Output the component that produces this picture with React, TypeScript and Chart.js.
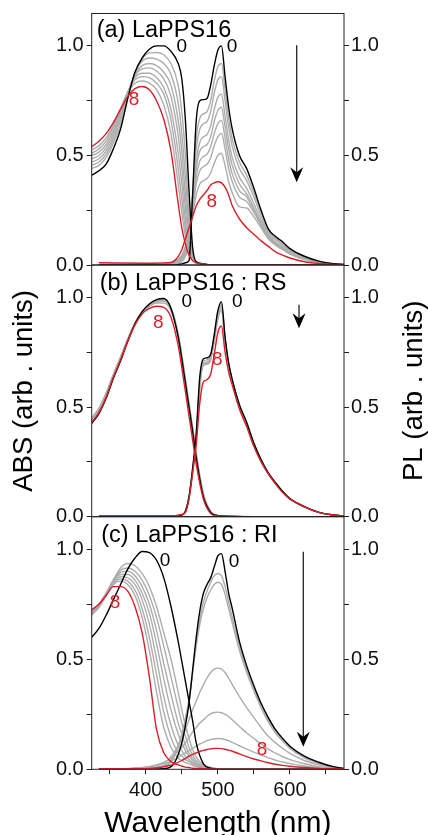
import React, { useEffect, useRef } from "react";
import { Chart, registerables } from "chart.js";

Chart.register(...registerables);

const FONT = "'Liberation Sans', Arial, Helvetica, sans-serif";
const BLACK = "#000000";
const GRAY = "#adadad";
const RED = "#d91f26";
const AXIS = "#222222";

// ---- axes ----
const xTicks = [350, 400, 450, 500, 550, 600, 650];
const xTickLabels = ["", "400", "", "500", "", "600", ""];
const yTicks = [0, 0.25, 0.5, 0.75, 1.0];
const yTickLabels = ["0.0", "", "0.5", "", "1.0"];
const X_MIN = 325;
const X_MAX = 675;
const Y_MAX = 1.148;

// ---- wavelength grids (nm) ----
const absWl = [325, 335, 345, 355, 365, 375, 385, 395, 405, 415, 425, 435, 445, 450, 455, 460, 465, 470, 480, 490, 500, 550, 600, 675];
const plWl = [335, 400, 430, 440, 450, 455, 460, 465, 470, 475, 480, 485, 490, 495, 500, 505, 510, 515, 520, 530, 540, 550, 560, 570, 580, 590, 600, 620, 640, 660, 675];

// ---- (a) LaPPS16 : absorption ----
const absA0 = [0.41, 0.43, 0.46, 0.53, 0.62, 0.76, 0.88, 0.945, 0.985, 1.0, 1.0, 0.975, 0.92, 0.85, 0.66, 0.34, 0.08, 0.015, 0.005, 0, 0, 0, 0, 0];
const absA1 = [0.44, 0.455, 0.49, 0.555, 0.64, 0.77, 0.875, 0.94, 0.968, 0.97, 0.96, 0.92, 0.82, 0.7, 0.5, 0.22, 0.05, 0.015, 0.005, 0, 0, 0, 0, 0];
const absA2 = [0.455, 0.47, 0.505, 0.57, 0.66, 0.775, 0.875, 0.93, 0.945, 0.94, 0.92, 0.87, 0.74, 0.6, 0.4, 0.17, 0.045, 0.015, 0.005, 0, 0, 0, 0, 0];
const absA3 = [0.47, 0.485, 0.52, 0.585, 0.675, 0.78, 0.87, 0.91, 0.92, 0.91, 0.88, 0.82, 0.66, 0.52, 0.32, 0.13, 0.04, 0.012, 0.005, 0, 0, 0, 0, 0];
const absA4 = [0.485, 0.5, 0.535, 0.6, 0.69, 0.785, 0.865, 0.895, 0.9, 0.885, 0.85, 0.77, 0.59, 0.44, 0.26, 0.1, 0.035, 0.012, 0.005, 0, 0, 0, 0, 0];
const absA5 = [0.5, 0.515, 0.55, 0.615, 0.7, 0.79, 0.855, 0.875, 0.875, 0.855, 0.81, 0.71, 0.51, 0.37, 0.2, 0.08, 0.03, 0.01, 0.005, 0, 0, 0, 0, 0];
const absA6 = [0.51, 0.53, 0.565, 0.63, 0.71, 0.79, 0.845, 0.86, 0.855, 0.83, 0.78, 0.66, 0.44, 0.3, 0.16, 0.065, 0.025, 0.01, 0.005, 0, 0, 0, 0, 0];
const absA7 = [0.525, 0.545, 0.58, 0.64, 0.715, 0.785, 0.83, 0.84, 0.83, 0.8, 0.73, 0.6, 0.37, 0.24, 0.13, 0.055, 0.02, 0.01, 0.005, 0, 0, 0, 0, 0];
const absA8 = [0.54, 0.565, 0.6, 0.65, 0.71, 0.77, 0.805, 0.815, 0.8, 0.75, 0.665, 0.52, 0.28, 0.17, 0.095, 0.045, 0.02, 0.01, 0.005, 0, 0, 0, 0, 0];

// ---- (a) LaPPS16 : photoluminescence ----
const plA0 = [0, 0, 0, 0, 0.005, 0.01, 0.02, 0.32, 0.66, 0.75, 0.755, 0.76, 0.82, 0.91, 0.98, 1.0, 0.86, 0.72, 0.62, 0.5, 0.44, 0.35, 0.25, 0.165, 0.13, 0.105, 0.075, 0.04, 0.018, 0.006, 0.002];
const plA1 = [0, 0, 0.002, 0.005, 0.015, 0.04, 0.1, 0.33, 0.58, 0.67, 0.69, 0.7, 0.75, 0.84, 0.905, 0.92, 0.8, 0.67, 0.575, 0.47, 0.41, 0.33, 0.24, 0.16, 0.12, 0.095, 0.068, 0.035, 0.016, 0.005, 0.002];
const plA2 = [0, 0, 0.002, 0.006, 0.02, 0.05, 0.11, 0.31, 0.53, 0.62, 0.645, 0.655, 0.7, 0.785, 0.845, 0.86, 0.75, 0.63, 0.54, 0.44, 0.385, 0.31, 0.225, 0.15, 0.115, 0.09, 0.064, 0.033, 0.015, 0.005, 0.002];
const plA3 = [0, 0, 0.003, 0.008, 0.025, 0.06, 0.12, 0.28, 0.47, 0.56, 0.585, 0.595, 0.635, 0.71, 0.765, 0.78, 0.68, 0.57, 0.49, 0.4, 0.35, 0.28, 0.205, 0.14, 0.105, 0.082, 0.058, 0.03, 0.014, 0.005, 0.002];
const plA4 = [0, 0, 0.003, 0.01, 0.03, 0.07, 0.13, 0.27, 0.44, 0.52, 0.54, 0.55, 0.585, 0.655, 0.705, 0.72, 0.63, 0.53, 0.455, 0.37, 0.325, 0.26, 0.19, 0.13, 0.098, 0.076, 0.054, 0.028, 0.013, 0.004, 0.002];
const plA5 = [0, 0, 0.004, 0.012, 0.035, 0.075, 0.14, 0.26, 0.4, 0.475, 0.495, 0.505, 0.54, 0.6, 0.645, 0.66, 0.58, 0.485, 0.415, 0.34, 0.31, 0.25, 0.19, 0.13, 0.1, 0.08, 0.058, 0.03, 0.013, 0.005, 0.002];
const plA6 = [0, 0, 0.005, 0.014, 0.04, 0.08, 0.14, 0.25, 0.37, 0.43, 0.45, 0.46, 0.49, 0.545, 0.585, 0.6, 0.53, 0.44, 0.38, 0.31, 0.29, 0.24, 0.18, 0.125, 0.095, 0.075, 0.055, 0.028, 0.012, 0.004, 0.001];
const plA7 = [0, 0, 0.006, 0.016, 0.045, 0.085, 0.14, 0.23, 0.32, 0.37, 0.385, 0.395, 0.42, 0.465, 0.5, 0.51, 0.455, 0.38, 0.33, 0.265, 0.26, 0.22, 0.17, 0.12, 0.09, 0.07, 0.05, 0.025, 0.011, 0.004, 0.001];
const plA8 = [0.01, 0.008, 0.01, 0.02, 0.07, 0.12, 0.17, 0.22, 0.27, 0.3, 0.32, 0.34, 0.365, 0.375, 0.38, 0.375, 0.355, 0.32, 0.27, 0.21, 0.17, 0.14, 0.11, 0.085, 0.06, 0.045, 0.032, 0.015, 0.007, 0.003, 0.001];

// ---- (b) LaPPS16 : RS : absorption ----
const absB0 = [0.425, 0.47, 0.54, 0.63, 0.71, 0.8, 0.88, 0.935, 0.97, 0.99, 0.995, 0.95, 0.82, 0.72, 0.61, 0.5, 0.39, 0.27, 0.09, 0.02, 0.005, 0, 0, 0];
const absB1 = [0.44, 0.485, 0.555, 0.64, 0.72, 0.805, 0.88, 0.93, 0.965, 0.985, 0.99, 0.95, 0.83, 0.73, 0.62, 0.51, 0.4, 0.28, 0.1, 0.025, 0.005, 0, 0, 0];
const absB2 = [0.435, 0.48, 0.55, 0.635, 0.715, 0.8, 0.875, 0.925, 0.96, 0.98, 0.985, 0.945, 0.825, 0.725, 0.615, 0.505, 0.395, 0.275, 0.095, 0.022, 0.005, 0, 0, 0];
const absB3 = [0.445, 0.49, 0.56, 0.645, 0.725, 0.81, 0.885, 0.935, 0.97, 0.985, 0.985, 0.955, 0.835, 0.74, 0.63, 0.52, 0.41, 0.29, 0.105, 0.025, 0.005, 0, 0, 0];
const absB4 = [0.45, 0.495, 0.565, 0.65, 0.73, 0.81, 0.88, 0.93, 0.96, 0.975, 0.975, 0.94, 0.82, 0.72, 0.61, 0.5, 0.39, 0.27, 0.095, 0.022, 0.005, 0, 0, 0];
const absB8 = [0.43, 0.475, 0.545, 0.635, 0.715, 0.8, 0.875, 0.925, 0.95, 0.96, 0.955, 0.91, 0.78, 0.68, 0.57, 0.46, 0.35, 0.24, 0.08, 0.015, 0.003, 0, 0, 0];

// ---- (b) LaPPS16 : RS : photoluminescence ----
const plB0 = [0, 0, 0, 0.003, 0.008, 0.025, 0.09, 0.22, 0.38, 0.64, 0.72, 0.725, 0.74, 0.83, 0.94, 0.98, 0.82, 0.7, 0.625, 0.51, 0.43, 0.335, 0.26, 0.2, 0.155, 0.115, 0.083, 0.046, 0.02, 0.008, 0.003];
const plB1 = [0, 0, 0, 0.003, 0.008, 0.025, 0.09, 0.22, 0.37, 0.62, 0.71, 0.715, 0.735, 0.825, 0.93, 0.97, 0.815, 0.7, 0.625, 0.51, 0.43, 0.335, 0.26, 0.2, 0.155, 0.115, 0.083, 0.046, 0.02, 0.008, 0.003];
const plB2 = [0, 0, 0, 0.003, 0.008, 0.025, 0.09, 0.21, 0.36, 0.61, 0.7, 0.705, 0.725, 0.815, 0.92, 0.96, 0.81, 0.695, 0.62, 0.505, 0.425, 0.33, 0.255, 0.197, 0.152, 0.113, 0.082, 0.045, 0.02, 0.008, 0.003];
const plB3 = [0, 0, 0, 0.003, 0.008, 0.025, 0.09, 0.21, 0.35, 0.6, 0.69, 0.695, 0.715, 0.805, 0.91, 0.95, 0.8, 0.69, 0.615, 0.5, 0.42, 0.33, 0.255, 0.196, 0.151, 0.112, 0.081, 0.045, 0.02, 0.008, 0.003];
const plB4 = [0, 0, 0, 0.003, 0.008, 0.025, 0.09, 0.2, 0.34, 0.59, 0.695, 0.7, 0.72, 0.8, 0.9, 0.94, 0.8, 0.69, 0.62, 0.505, 0.425, 0.33, 0.255, 0.197, 0.152, 0.113, 0.082, 0.045, 0.02, 0.008, 0.003];
const plB8 = [0.005, 0.005, 0.005, 0.005, 0.01, 0.02, 0.08, 0.2, 0.33, 0.52, 0.615, 0.625, 0.65, 0.74, 0.84, 0.87, 0.75, 0.66, 0.6, 0.49, 0.41, 0.32, 0.25, 0.195, 0.15, 0.11, 0.08, 0.045, 0.02, 0.008, 0.003];

// ---- (c) LaPPS16 : RI : absorption ----
const absC0 = [0.6, 0.64, 0.7, 0.77, 0.84, 0.91, 0.96, 0.99, 0.985, 0.95, 0.87, 0.74, 0.58, 0.49, 0.4, 0.31, 0.22, 0.12, 0.025, 0.005, 0, 0, 0, 0];
const absC1 = [0.7, 0.735, 0.79, 0.86, 0.915, 0.935, 0.925, 0.89, 0.83, 0.74, 0.62, 0.5, 0.35, 0.27, 0.2, 0.14, 0.09, 0.055, 0.02, 0.008, 0.003, 0, 0, 0];
const absC2 = [0.705, 0.74, 0.795, 0.86, 0.905, 0.915, 0.9, 0.86, 0.79, 0.69, 0.56, 0.42, 0.28, 0.21, 0.15, 0.1, 0.065, 0.04, 0.015, 0.006, 0.002, 0, 0, 0];
const absC3 = [0.71, 0.745, 0.8, 0.86, 0.895, 0.9, 0.88, 0.83, 0.75, 0.63, 0.48, 0.34, 0.21, 0.16, 0.11, 0.075, 0.05, 0.03, 0.012, 0.005, 0.002, 0, 0, 0];
const absC4 = [0.71, 0.745, 0.8, 0.855, 0.885, 0.885, 0.86, 0.8, 0.71, 0.57, 0.41, 0.27, 0.16, 0.12, 0.085, 0.06, 0.04, 0.025, 0.01, 0.004, 0.002, 0, 0, 0];
const absC5 = [0.715, 0.75, 0.8, 0.85, 0.875, 0.87, 0.84, 0.77, 0.66, 0.5, 0.33, 0.2, 0.11, 0.085, 0.06, 0.045, 0.03, 0.02, 0.008, 0.003, 0.001, 0, 0, 0];
const absC6 = [0.72, 0.75, 0.795, 0.845, 0.865, 0.855, 0.815, 0.73, 0.6, 0.43, 0.26, 0.145, 0.075, 0.06, 0.045, 0.035, 0.025, 0.016, 0.007, 0.003, 0.001, 0, 0, 0];
const absC7 = [0.72, 0.75, 0.79, 0.84, 0.855, 0.84, 0.79, 0.69, 0.54, 0.35, 0.19, 0.1, 0.05, 0.04, 0.03, 0.025, 0.018, 0.012, 0.005, 0.002, 0.001, 0, 0, 0];
const absC8 = [0.725, 0.75, 0.79, 0.83, 0.83, 0.81, 0.74, 0.62, 0.42, 0.18, 0.075, 0.035, 0.02, 0.015, 0.01, 0.008, 0.005, 0.004, 0.003, 0.002, 0, 0, 0, 0];

// ---- (c) LaPPS16 : RI : photoluminescence ----
const plC0 = [0, 0, 0.005, 0.03, 0.12, 0.2, 0.3, 0.45, 0.6, 0.72, 0.8, 0.84, 0.87, 0.92, 0.97, 0.98, 0.9, 0.8, 0.73, 0.58, 0.47, 0.38, 0.3, 0.235, 0.18, 0.14, 0.105, 0.06, 0.032, 0.012, 0.004];
const plC1 = [0, 0.005, 0.02, 0.06, 0.15, 0.22, 0.31, 0.44, 0.57, 0.68, 0.76, 0.81, 0.85, 0.88, 0.89, 0.88, 0.83, 0.76, 0.69, 0.56, 0.455, 0.37, 0.29, 0.225, 0.175, 0.135, 0.1, 0.055, 0.028, 0.01, 0.003];
const plC2 = [0, 0.006, 0.025, 0.07, 0.16, 0.23, 0.32, 0.44, 0.56, 0.66, 0.73, 0.78, 0.815, 0.84, 0.85, 0.84, 0.795, 0.73, 0.665, 0.54, 0.44, 0.355, 0.28, 0.215, 0.165, 0.127, 0.095, 0.052, 0.026, 0.01, 0.003];
const plC3 = [0, 0.01, 0.04, 0.08, 0.14, 0.18, 0.225, 0.27, 0.31, 0.35, 0.385, 0.415, 0.44, 0.455, 0.46, 0.455, 0.44, 0.415, 0.385, 0.33, 0.28, 0.235, 0.19, 0.15, 0.12, 0.095, 0.072, 0.04, 0.02, 0.008, 0.002];
const plC4 = [0, 0.01, 0.04, 0.065, 0.1, 0.12, 0.145, 0.17, 0.19, 0.21, 0.225, 0.24, 0.252, 0.258, 0.26, 0.257, 0.25, 0.24, 0.225, 0.195, 0.165, 0.14, 0.115, 0.092, 0.073, 0.057, 0.044, 0.025, 0.012, 0.005, 0.002];
const plC5 = [0, 0.008, 0.03, 0.045, 0.065, 0.075, 0.085, 0.095, 0.105, 0.115, 0.122, 0.13, 0.135, 0.138, 0.14, 0.139, 0.135, 0.13, 0.122, 0.107, 0.092, 0.078, 0.065, 0.052, 0.042, 0.033, 0.026, 0.015, 0.007, 0.003, 0.001];
const plC8 = [0.003, 0.003, 0.015, 0.025, 0.04, 0.05, 0.06, 0.068, 0.075, 0.081, 0.086, 0.09, 0.093, 0.095, 0.095, 0.094, 0.091, 0.087, 0.082, 0.07, 0.058, 0.047, 0.038, 0.03, 0.023, 0.018, 0.014, 0.008, 0.004, 0.002, 0.001];

// ---- text ----
const panelTitles = ["(a) LaPPS16", "(b) LaPPS16 : RS", "(c) LaPPS16 : RI"];
const xTitle = "Wavelength (nm)";
const leftTitle = "ABS (arb . units)";
const rightTitle = "PL (arb . units)";

type Curve = { wl: number[]; val: number[]; color: string };
type Mark = { text: string; wl: number; val: number; color: string };
type Panel = {
  title: string;
  titleDx: number;
  titleDy: number;
  curves: Curve[];
  marks: Mark[];
  arrow: { wl: number; from: number; to: number };
};

function buildCurves(absFirst: number[], absGrays: number[][], absLast: number[], plFirst: number[], plGrays: number[][], plLast: number[]): Curve[] {
  return [
    { wl: absWl, val: absLast, color: RED },
    { wl: plWl, val: plLast, color: RED },
    { wl: absWl, val: absFirst, color: BLACK },
    { wl: plWl, val: plFirst, color: BLACK },
    ...absGrays.map((v) => ({ wl: absWl, val: v, color: GRAY })),
    ...plGrays.map((v) => ({ wl: plWl, val: v, color: GRAY })),
  ];
}

const panels: Panel[] = [
  {
    title: panelTitles[0],
    titleDx: 5,
    titleDy: 17,
    curves: buildCurves(absA0, [absA1, absA2, absA3, absA4, absA5, absA6, absA7], absA8, plA0, [plA1, plA2, plA3, plA4, plA5, plA6, plA7], plA8),
    marks: [
      { text: "0", wl: 449.8, val: 0.995, color: BLACK },
      { text: "0", wl: 519.6, val: 0.995, color: BLACK },
      { text: "8", wl: 383.7, val: 0.752, color: RED },
      { text: "8", wl: 491.5, val: 0.289, color: RED },
    ],
    arrow: { wl: 609.4, from: 1.003, to: 0.378 },
  },
  {
    title: panelTitles[1],
    titleDx: 8,
    titleDy: 18.5,
    curves: buildCurves(absB0, [absB1, absB2, absB3, absB4], absB8, plB0, [plB1, plB2, plB3, plB4], plB8),
    marks: [
      { text: "0", wl: 456.8, val: 0.982, color: BLACK },
      { text: "8", wl: 417.4, val: 0.883, color: RED },
      { text: "0", wl: 527, val: 0.982, color: BLACK },
      { text: "8", wl: 499.2, val: 0.716, color: RED },
    ],
    arrow: { wl: 612.6, from: 0.967, to: 0.86 },
  },
  {
    title: panelTitles[2],
    titleDx: 9.5,
    titleDy: 18.5,
    curves: buildCurves(absC0, [absC1, absC2, absC3, absC4, absC5, absC6, absC7], absC8, plC0, [plC1, plC2, plC3, plC4, plC5], plC8),
    marks: [
      { text: "0", wl: 426.7, val: 0.948, color: BLACK },
      { text: "8", wl: 357.3, val: 0.755, color: RED },
      { text: "0", wl: 522.4, val: 0.944, color: BLACK },
      { text: "8", wl: 561.2, val: 0.088, color: RED },
    ],
    arrow: { wl: 618.5, from: 0.989, to: 0.103 },
  },
];

const LEFT_W = 91.7;
const RIGHT_W = 84;

function panelPlugin(p: Panel, axisTitles: boolean) {
  return {
    id: "panelDecor",
    afterDraw(chart: any) {
      const { ctx, chartArea: a, scales } = chart;
      const xs = scales.x;
      const ys = scales.y;
      ctx.save();
      // frame
      ctx.strokeStyle = AXIS;
      ctx.lineWidth = 1;
      ctx.strokeRect(a.left, a.top, a.right - a.left, a.bottom - a.top);
      // curve numbers
      ctx.font = `19px ${FONT}`;
      ctx.textAlign = "center";
      ctx.textBaseline = "middle";
      for (const m of p.marks) {
        ctx.fillStyle = m.color;
        ctx.fillText(m.text, xs.getPixelForValue(m.wl), ys.getPixelForValue(m.val));
      }
      // panel title
      ctx.font = `23.5px ${FONT}`;
      ctx.textAlign = "left";
      ctx.fillStyle = "#000";
      ctx.fillText(p.title, a.left + p.titleDx, a.top + p.titleDy);
      // arrow
      const ax = xs.getPixelForValue(p.arrow.wl);
      const y1 = ys.getPixelForValue(p.arrow.from);
      const y2 = ys.getPixelForValue(p.arrow.to);
      ctx.strokeStyle = "#111";
      ctx.lineWidth = 1.2;
      ctx.beginPath();
      ctx.moveTo(ax, y1);
      ctx.lineTo(ax, y2 - 8);
      ctx.stroke();
      ctx.fillStyle = "#000";
      ctx.beginPath();
      ctx.moveTo(ax, y2);
      ctx.lineTo(ax - 6.5, y2 - 15);
      ctx.lineTo(ax, y2 - 10);
      ctx.lineTo(ax + 6.5, y2 - 15);
      ctx.closePath();
      ctx.fill();
      if (axisTitles) {
        const cy = (a.top + a.bottom) / 2;
        ctx.font = `27.5px ${FONT}`;
        ctx.textAlign = "center";
        ctx.textBaseline = "middle";
        ctx.fillStyle = "#000";
        ctx.save();
        ctx.translate(24, cy);
        ctx.rotate(-Math.PI / 2);
        ctx.fillText(leftTitle, 0, 0);
        ctx.restore();
        ctx.save();
        ctx.translate(414, cy);
        ctx.rotate(-Math.PI / 2);
        ctx.fillText(rightTitle, 0, 0);
        ctx.restore();
      }
      ctx.restore();
    },
  };
}

function yAxis(position: "left" | "right", width: number, padding: number) {
  return {
    type: "linear",
    position,
    min: 0,
    max: Y_MAX,
    afterBuildTicks: (s: any) => {
      s.ticks = yTicks.map((v) => ({ value: v }));
    },
    afterFit: (s: any) => {
      s.width = width;
      s.paddingTop = 0;
      s.paddingBottom = 0;
    },
    ticks: {
      autoSkip: false,
      padding,
      color: "#111",
      font: { family: FONT, size: 20 },
      callback: (v: number) => {
        const i = yTicks.indexOf(v);
        return i >= 0 ? yTickLabels[i] : "";
      },
    },
    grid: { display: true, drawOnChartArea: false, drawTicks: true, tickLength: 5, color: AXIS },
    border: { display: false },
  };
}

function makeConfig(p: Panel, o: { showX: boolean; padTop: number; padBottom: number; xHeight: number; axisTitles: boolean }) {
  return {
    type: "line",
    data: {
      datasets: p.curves.map((c) => ({
        data: c.wl.map((w, i) => ({ x: w, y: c.val[i] })),
        borderColor: c.color,
        borderWidth: 1.4,
        pointRadius: 0,
        fill: false,
        cubicInterpolationMode: "monotone",
      })),
    },
    options: {
      animation: false,
      responsive: false,
      devicePixelRatio: 1,
      events: [],
      layout: { padding: { top: o.padTop, bottom: o.padBottom, left: 0, right: 0 } },
      plugins: { legend: { display: false }, tooltip: { enabled: false }, title: { display: false } },
      scales: {
        x: {
          type: "linear",
          min: X_MIN,
          max: X_MAX,
          display: o.showX,
          afterBuildTicks: (s: any) => {
            s.ticks = xTicks.map((v) => ({ value: v }));
          },
          afterFit: (s: any) => {
            s.height = o.xHeight;
            s.paddingLeft = 0;
            s.paddingRight = 0;
          },
          ticks: {
            autoSkip: false,
            maxRotation: 0,
            padding: 4,
            color: "#111",
            font: { family: FONT, size: 20 },
            callback: (v: number) => {
              const i = xTicks.indexOf(v);
              return i >= 0 ? xTickLabels[i] : "";
            },
          },
          grid: { display: true, drawOnChartArea: false, drawTicks: true, tickLength: 5, color: AXIS },
          border: { display: false },
          title: {
            display: true,
            text: xTitle,
            color: "#000",
            padding: 0,
            font: { family: FONT, size: 30, lineHeight: 0.75 },
          },
        },
        y: yAxis("left", LEFT_W, 3),
        y2: yAxis("right", RIGHT_W, 2),
      },
    },
    plugins: [panelPlugin(p, o.axisTitles)],
  };
}

export default function App() {
  const refA = useRef<HTMLCanvasElement>(null);
  const refB = useRef<HTMLCanvasElement>(null);
  const refC = useRef<HTMLCanvasElement>(null);

  useEffect(() => {
    const charts = [
      new Chart(refA.current as any, makeConfig(panels[0], { showX: false, padTop: 13.5, padBottom: 15, xHeight: 0, axisTitles: false }) as any),
      new Chart(refB.current as any, makeConfig(panels[1], { showX: false, padTop: 15, padBottom: 23.3, xHeight: 0, axisTitles: true }) as any),
      new Chart(refC.current as any, makeConfig(panels[2], { showX: true, padTop: 16.7, padBottom: 0, xHeight: 65.7, axisTitles: false }) as any),
    ];
    return () => charts.forEach((c) => c.destroy());
  }, []);

  const cs = (top: number, h: number): React.CSSProperties => ({ position: "absolute", left: 0, top, width: 428, height: h });

  return (
    <div style={{ position: "absolute", left: 0, top: 0, width: 428, height: 835, background: "#fff", overflow: "hidden" }}>
      <canvas ref={refA} width={428} height={280} style={cs(0, 280)} />
      <canvas ref={refB} width={428} height={290} style={cs(250, 290)} />
      <canvas ref={refC} width={428} height={335} style={cs(500, 335)} />
    </div>
  );
}
